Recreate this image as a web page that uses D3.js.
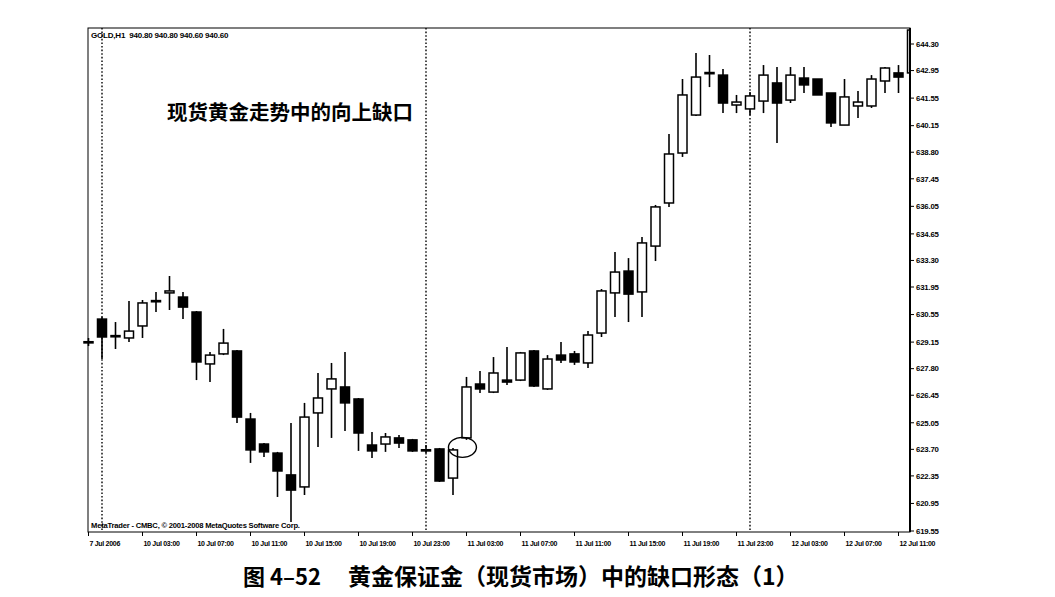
<!DOCTYPE html>
<html><head><meta charset="utf-8">
<script src="https://cdn.jsdelivr.net/npm/d3@7"></script>
<style>body{margin:0;background:#fff}</style>
</head><body><svg id="c" width="1055" height="597"></svg>
<script>
// bar index -1 = 7 Jul 2006 (last bar of Friday), 0 = 10 Jul 00:00 ... 60 = 12 Jul 12:00
const barIndex = [-1,0,1,2,3,4,5,6,7,8,9,10,11,12,13,14,15,16,17,18,19,20,21,22,23,24,25,26,27,28,29,30,31,32,33,34,35,36,37,38,39,40,41,42,43,44,45,46,47,48,49,50,51,52,53,54,55,56,57,58,59,60];
const openP  = [629.17,630.32,629.45,629.36,629.97,631.22,631.65,631.44,630.68,628.04,628.55,628.70,625.24,623.97,623.51,622.40,621.79,625.55,626.77,626.87,626.26,623.92,623.97,624.28,624.18,623.68,623.72,622.24,624.28,627.02,626.61,627.22,627.22,628.70,626.77,628.49,628.55,628.09,629.61,631.65,632.76,631.70,634.03,636.22,638.76,640.69,642.82,642.72,641.20,641.00,641.40,642.32,641.45,642.57,642.52,641.81,640.18,641.15,641.15,642.42,642.83,642.83];
const highP  = [629.36,630.43,630.17,631.24,631.29,631.70,632.51,631.70,630.73,628.65,629.82,628.75,625.55,624.02,623.57,625.04,626.06,627.58,628.09,628.65,626.31,624.58,624.53,624.43,624.23,623.92,623.77,623.77,627.38,627.68,628.39,628.90,628.65,628.75,628.49,629.16,628.70,629.71,631.85,633.73,633.42,634.49,636.12,639.73,642.52,643.84,643.74,643.03,641.71,641.86,643.23,643.13,643.13,643.13,642.52,641.81,642.52,641.91,642.72,643.13,643.23,645.11];
const lowP   = [628.95,628.29,628.80,629.16,629.36,630.68,630.78,630.32,627.22,627.12,628.49,625.04,623.01,623.31,621.28,620.01,621.38,623.82,624.28,624.63,623.62,623.26,623.57,623.77,623.57,623.51,622.04,621.38,624.18,626.56,626.56,626.97,627.17,626.87,626.72,628.09,627.99,627.83,629.41,630.43,630.17,630.43,633.27,636.02,638.56,640.64,642.11,640.79,640.79,640.69,640.79,639.27,641.30,641.81,641.71,640.08,640.18,640.54,641.05,641.81,641.81,642.83];
const closeP = [629.15,629.41,629.48,629.71,631.14,631.26,631.75,630.93,628.14,628.49,629.10,625.34,623.67,623.57,622.60,621.63,625.34,626.31,627.28,626.06,624.53,623.62,624.33,624.02,623.62,623.66,622.09,623.67,626.87,626.77,627.58,627.12,628.60,626.92,628.29,628.24,628.14,629.51,631.75,632.71,631.59,634.19,636.02,638.71,641.71,642.62,642.85,641.30,641.35,641.66,642.72,641.30,642.72,642.22,641.71,640.29,641.61,641.35,642.52,643.08,642.62,645.01];

const yTickValues = [644.30,642.95,641.55,640.15,638.80,637.45,636.05,634.65,633.30,631.95,630.55,629.15,627.80,626.45,625.05,623.70,622.35,620.95,619.55];
const yTickLabels = ["644.30","642.95","641.55","640.15","638.80","637.45","636.05","634.65","633.30","631.95","630.55","629.15","627.80","626.45","625.05","623.70","622.35","620.95","619.55"];
const xTickIdx = [-1,3,7,11,15,19,23,27,31,35,39,43,47,51,55,59];
const xTickLabels = ["7 Jul 2006","10 Jul 03:00","10 Jul 07:00","10 Jul 11:00","10 Jul 15:00","10 Jul 19:00","10 Jul 23:00","11 Jul 03:00","11 Jul 07:00","11 Jul 11:00","11 Jul 15:00","11 Jul 19:00","11 Jul 23:00","12 Jul 03:00","12 Jul 07:00","12 Jul 11:00"];
const daySeparators = [0,24,48];
const headerText = "GOLD,H1  940.80 940.80 940.60 940.60";
const copyrightText = "MetaTrader - CMBC, © 2001-2008 MetaQuotes Software Corp.";
const noteText = "现货黄金走势中的向上缺口";
const captionNum = "图 4–52";
const captionText = "黄金保证金（现货市场）中的缺口形态（1）";
const gapMark = {idx: 26.7, price: 623.8};

const svg = d3.select("#c");
const L = 88, R = 910, T = 28, B = 532;
const x = d3.scaleLinear().domain([0, 60]).range([102, 912]);
const y = d3.scaleLinear().domain([619.55, 644.30]).range([531, 44]);

svg.append("defs").append("clipPath").attr("id","pc")
  .append("rect").attr("x", 80).attr("y", T).attr("width", R - 80).attr("height", B - T);

// day separators
svg.selectAll("line.sep").data(daySeparators).join("line")
  .attr("x1", d => x(d)).attr("x2", d => x(d)).attr("y1", T).attr("y2", B)
  .attr("stroke", "#000").attr("stroke-width", 1.4).attr("stroke-dasharray", "1.6,2");

// candles
const data = barIndex.map((i, k) => ({i, o: openP[k], h: highP[k], l: lowP[k], c: closeP[k]}));
const g = svg.append("g").attr("clip-path", "url(#pc)");
const cg = g.selectAll("g.c").data(data).join("g");
cg.append("line")
  .attr("x1", d => x(d.i)).attr("x2", d => x(d.i))
  .attr("y1", d => y(d.h)).attr("y2", d => y(d.l))
  .attr("stroke", "#000").attr("stroke-width", 1.6);
cg.append("rect")
  .attr("x", d => x(d.i) - 4.5).attr("width", 9)
  .attr("y", d => y(Math.max(d.o, d.c)))
  .attr("height", d => Math.max(1.2, Math.abs(y(d.o) - y(d.c))))
  .attr("fill", d => d.c > d.o ? "#fff" : "#000")
  .attr("stroke", "#000").attr("stroke-width", 1.5);

// frame
svg.append("rect").attr("x", L).attr("y", T).attr("width", R - L).attr("height", B - T)
  .attr("fill", "none").attr("stroke", "#000").attr("stroke-width", 1);
svg.append("line").attr("x1", R).attr("x2", R).attr("y1", T).attr("y2", B)
  .attr("stroke", "#000").attr("stroke-width", 2);

const F = "Liberation Sans, Arial, sans-serif";
// right axis
const ya = svg.append("g");
ya.selectAll("line").data(yTickValues).join("line")
  .attr("x1", R).attr("x2", R + 4).attr("y1", d => y(d)).attr("y2", d => y(d))
  .attr("stroke", "#000").attr("stroke-width", 1);
ya.selectAll("text").data(yTickValues).join("text")
  .attr("x", R + 6).attr("y", d => y(d) + 2.8)
  .attr("font-family", F).attr("font-size", 7.8).attr("font-weight", "bold")
  .attr("letter-spacing", -0.2)
  .text((d, k) => yTickLabels[k]);

// bottom axis
const xa = svg.append("g");
xa.selectAll("line").data(xTickIdx).join("line")
  .attr("x1", d => Math.max(L, x(d))).attr("x2", d => Math.max(L, x(d))).attr("y1", B).attr("y2", B + 4)
  .attr("stroke", "#000").attr("stroke-width", 1);
xa.selectAll("text").data(xTickIdx).join("text")
  .attr("x", d => Math.max(L, x(d)) + 1).attr("y", B + 14)
  .attr("font-family", F).attr("font-size", 7).attr("font-weight", "bold")
  .attr("letter-spacing", -0.3)
  .text((d, k) => xTickLabels[k]);

// texts inside
svg.append("text").attr("x", 91).attr("y", 38)
  .attr("font-family", F).attr("font-size", 8).attr("font-weight", "bold")
  .attr("letter-spacing", -0.2).style("white-space", "pre").text(headerText);
svg.append("text").attr("x", 91).attr("y", 528)
  .attr("font-family", F).attr("font-size", 7.6).attr("font-weight", "bold")
  .attr("letter-spacing", -0.2).text(copyrightText);
svg.append("text").attr("x", 167).attr("y", 120)
  .attr("font-family", "Noto Sans CJK SC").attr("font-size", 20.5).attr("font-weight", "bold")
  .text(noteText);

// gap ellipse
svg.append("ellipse").attr("cx", x(gapMark.idx)).attr("cy", y(gapMark.price))
  .attr("rx", 14).attr("ry", 10).attr("fill", "none").attr("stroke", "#000").attr("stroke-width", 1.4);

// caption
svg.append("text").attr("x", 243).attr("y", 585)
  .attr("font-family", "Noto Sans CJK SC").attr("font-size", 22).attr("font-weight", "bold")
  .text(captionNum);
svg.append("text").attr("x", 348).attr("y", 585)
  .attr("font-family", "Noto Sans CJK SC").attr("font-size", 23).attr("font-weight", "bold")
  .text(captionText);
</script></body></html>
